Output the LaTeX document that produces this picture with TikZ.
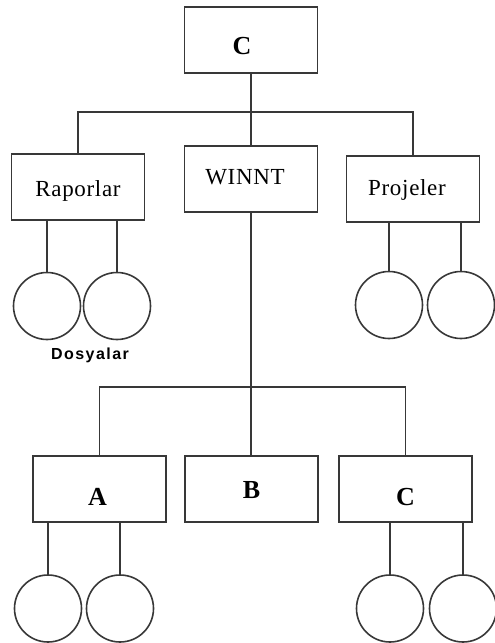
\documentclass[tikz,border=0pt]{standalone}
\usepackage{fontspec}
\setmainfont{Liberation Serif}
\newfontfamily\boxfont[LetterSpace=3]{Liberation Serif}
\newfontfamily\dosfont[LetterSpace=9]{Liberation Sans}
\begin{document}
\begin{tikzpicture}[x=1pt,y=-1pt,
  ln/.style={draw=black!78,line width=1.6pt},
  box/.style={ln,rectangle,minimum width=133pt,minimum height=66pt,inner sep=0pt,text depth=0pt,font=\boxfont\fontsize{23}{25}\selectfont},
  bbox/.style={box,font=\fontsize{26}{28}\selectfont\bfseries},
  disk/.style={ln,circle,minimum size=67pt,inner sep=0pt}]
\useasboundingbox (0,0) rectangle (495,643);
% boxes
\node[bbox,text height=29.2pt] (topC) at (251,40) {\hspace*{-18pt}C};
\node[box,text height=19.2pt] (rap) at (78,187) {Raporlar};
\node[box,text height=11.2pt] (winnt) at (251,179) {\hspace*{-12pt}WINNT};
\node[box,text height=13.2pt] (proj) at (413,189) {\hspace*{-12pt}Projeler};
\node[bbox,text height=33.2pt] (A) at (99.5,489) {\hspace*{-4pt}A};
\node[bbox,text height=19.2pt] (B) at (251.5,489) {B};
\node[bbox,text height=33.2pt] (Cb) at (405.5,489) {C};
% disks
\node[disk] (r1) at (47,306) {};
\node[disk] (r2) at (117,306) {};
\node[disk] (p1) at (389,305) {};
\node[disk] (p2) at (461,305) {};
\node[disk] (a1) at (48,608.5) {};
\node[disk] (a2) at (120,608.5) {};
\node[disk] (c1) at (390,608.5) {};
\node[disk] (c2) at (463,608.5) {};
\node[font=\dosfont\fontsize{16}{18}\selectfont\bfseries] (dos) at (90,355) {Dosyalar};
% junctions
\coordinate (j1) at (251,112);
\coordinate (j2) at (251,387);
% connectors
\draw[ln] (topC.south) -- (winnt.north);
\draw[ln] (rap.north) |- (j1) -| (proj.north);
\draw[ln] (winnt.south) -- (winnt.south |- B.north);
\draw[ln] (A.north) |- (j2) -| (Cb.north);
\foreach \b/\c in {rap/r1,rap/r2,proj/p1,proj/p2,A/a1,A/a2,Cb/c1,Cb/c2}
  \draw[ln] (\b.south -| \c.north) -- (\c.north);
\end{tikzpicture}
\end{document}
